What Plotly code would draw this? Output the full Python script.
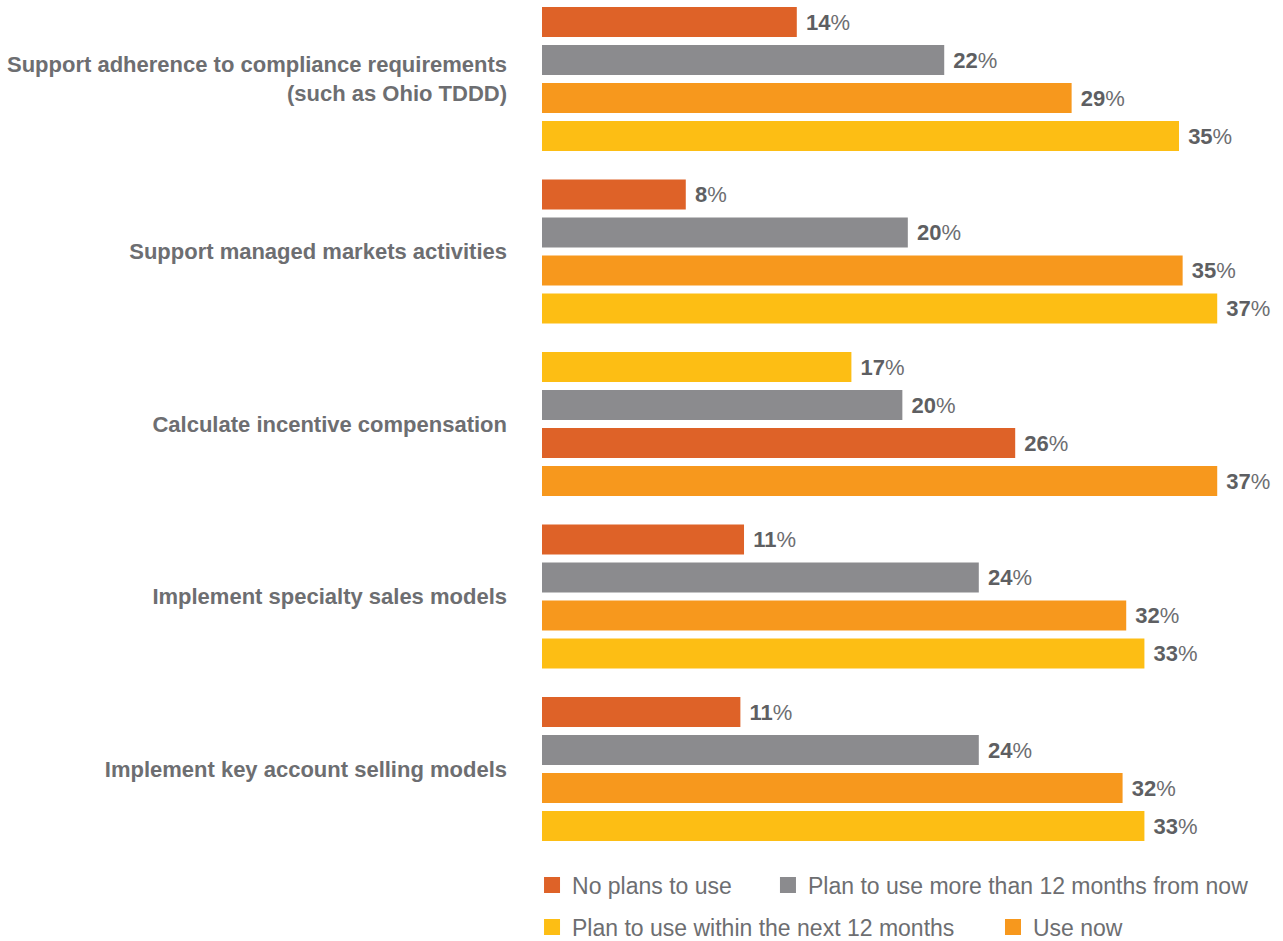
import plotly.graph_objects as go

# ---------------- data ----------------
categories = [
    "Support adherence to compliance requirements<br>(such as Ohio TDDD)",
    "Support managed markets activities",
    "Calculate incentive compensation",
    "Implement specialty sales models",
    "Implement key account selling models",
]
series_names = [
    "No plans to use",
    "Plan to use more than 12 months from now",
    "Plan to use within the next 12 months",
    "Use now",
]
no_plans = [14.0, 7.9, 26.0, 11.1, 10.9]
more_than_12 = [22.1, 20.1, 19.8, 24.0, 24.0]
within_12 = [35.0, 37.1, 17.0, 33.1, 33.1]
use_now = [29.1, 35.2, 37.1, 32.1, 31.9]

series_values = [no_plans, more_than_12, within_12, use_now]

# ---------------- style ----------------
colors = ["#DE6228", "#8B8B8E", "#FDBE14", "#F7981D"]
text_color = "#6D6E71"
FONT = "Liberation Sans, Arial, sans-serif"
FONT_BOLD = "Liberation Sans, Arial, sans-serif"

W, H = 1283, 941
M_L, M_R, M_T, M_B = 542, 13, 0, 81
SLOT_PX = 38.0          # pixel distance between neighbouring bars
GROUP_PX = 172.5        # pixel distance between groups
FIRST_PX = 22.0         # centre of first bar from top of plot area
BAR_PX = 30.0
plot_h = H - M_T - M_B
group_step = GROUP_PX / SLOT_PX

n_series = len(series_values)
# rank of each series inside each group (ascending values, top to bottom)
ranks = []
for g in range(len(categories)):
    vals = [series_values[s][g] for s in range(n_series)]
    order = sorted(range(n_series), key=lambda s: vals[s])
    r = [0] * n_series
    for pos, s in enumerate(order):
        r[s] = pos
    ranks.append(r)

fig = go.Figure()
for s in range(n_series):
    ys = [g * group_step + ranks[g][s] for g in range(len(categories))]
    fig.add_trace(go.Bar(
        x=series_values[s], y=ys, orientation="h",
        name=series_names[s],
        marker=dict(color=colors[s], line=dict(width=0)),
        width=BAR_PX / SLOT_PX,
        texttemplate="\u00a0<b><span style='color:#5E5F62'>%{x:.0f}</span></b>%",
        textposition="outside",
        textfont=dict(family=FONT, size=22, color=text_color),
        constraintext="none",
        cliponaxis=False,
        showlegend=False,
        hovertemplate=series_names[s] + ": %{x:.0f}%<extra></extra>",
    ))

# legend entries (square markers), each in its own legend for placement
legend_pos = [(-0.0137, 885), (0.3104, 885), (-0.0137, 927), (0.6195, 927)]
legend_keys = ["legend", "legend2", "legend3", "legend4"]
for s in range(n_series):
    fig.add_trace(go.Scatter(
        x=[None], y=[None], mode="markers", name=series_names[s],
        marker=dict(symbol="square", size=16, color=colors[s]),
        legend=legend_keys[s], showlegend=True, hoverinfo="skip",
    ))

y_top = -FIRST_PX / SLOT_PX
y_bot = (plot_h - FIRST_PX) / SLOT_PX
tickvals = [g * group_step + (n_series - 1) / 2 for g in range(len(categories))]
ticktext = ["<b>" + c.replace("<br>", "</b><br><b>") + "</b>" for c in categories]

layout_legends = {}
for k, (lx, py) in zip(legend_keys, legend_pos):
    layout_legends[k] = dict(
        x=lx, xanchor="left", y=(plot_h - py) / plot_h, yanchor="middle",
        orientation="h", bgcolor="rgba(0,0,0,0)", itemsizing="trace",
        font=dict(family=FONT, size=23, color=text_color),
    )

fig.update_layout(
    width=W, height=H, autosize=False,
    margin=dict(l=M_L, r=M_R, t=M_T, b=M_B, autoexpand=False),
    paper_bgcolor="white", plot_bgcolor="white",
    barmode="overlay",
    xaxis=dict(range=[0, 40], visible=False, fixedrange=True),
    yaxis=dict(
        range=[y_bot, y_top], tickmode="array", tickvals=tickvals,
        ticktext=ticktext, showgrid=False, zeroline=False, showline=False,
        ticks="", ticklabelstandoff=34,
        tickfont=dict(family=FONT_BOLD, size=22, color=text_color),
        fixedrange=True,
    ),
    **layout_legends,
)

fig.write_html("out.html")
